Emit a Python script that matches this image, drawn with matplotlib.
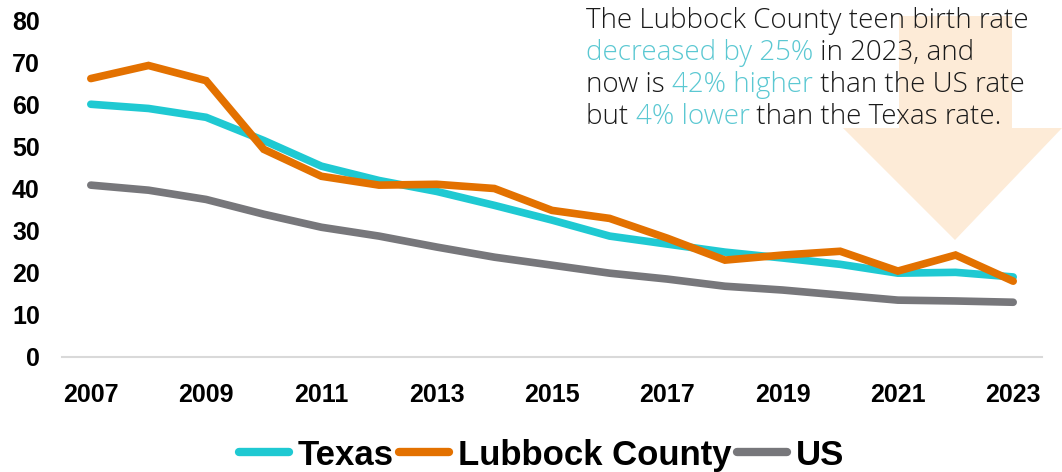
import numpy as np
import matplotlib.pyplot as plt
from matplotlib.patches import Polygon

years = list(range(2007, 2024))
texas = [60.0, 59.0, 56.9, 51.4, 45.3, 41.9, 39.3, 36.0, 32.5, 28.7, 26.8, 24.9, 23.5, 22.0, 19.9, 20.1, 19.0]
lubbock = [66.1, 69.2, 65.6, 49.3, 42.9, 40.8, 41.0, 40.0, 34.8, 32.9, 28.2, 23.0, 24.2, 25.1, 20.4, 24.2, 18.0]
us = [40.8, 39.6, 37.4, 33.9, 30.8, 28.7, 26.1, 23.7, 21.8, 19.9, 18.5, 16.8, 15.9, 14.7, 13.5, 13.3, 13.0]
series_names = ["Texas", "Lubbock County", "US"]
colors = ["#1FC9D2", "#E37100", "#77777B"]
y_ticks = list(range(0, 90, 10))
x_labels = years[::2]

note_lines = [
    [("The Lubbock County teen birth rate", "#1a1a1a")],
    [("decreased by 25%", "#5BC8D2"), (" in 2023, and", "#1a1a1a")],
    [("now is ", "#1a1a1a"), ("42% higher", "#5BC8D2"), (" than the US rate", "#1a1a1a")],
    [("but ", "#1a1a1a"), ("4% lower", "#5BC8D2"), (" than the Texas rate.", "#1a1a1a")],
]

W, H = 1062, 472
fig = plt.figure(figsize=(W / 100, H / 100), dpi=100)
ax = fig.add_axes([62 / W, 1 - 357 / H, (1042 - 62) / W, (357 - 20) / H])
ax.set_facecolor("none")

# background arrow (figure pixels)
arrow = [(899, 16), (1012, 16), (1012, 128), (1062, 128), (955, 240), (843, 128), (899, 128)]
arrow = [(x / W, 1 - y / H) for x, y in arrow]
fig.patches.append(Polygon(arrow, closed=True, transform=fig.transFigure,
                           facecolor="#FDEBD7", edgecolor="none", zorder=0))

for vals, name, c in zip([texas, lubbock, us], series_names, colors):
    ax.plot(years, vals, color=c, lw=5.5, solid_capstyle="round",
            solid_joinstyle="miter", label=name)

ax.set_xlim(2006.5, 2023.5)
ax.set_ylim(0, 80)
ax.set_yticks(y_ticks)
ax.set_xticks(x_labels)
for s in ["top", "right", "left"]:
    ax.spines[s].set_visible(False)
ax.spines["bottom"].set_color("#D9D9D9")
ax.spines["bottom"].set_linewidth(1.5)
ax.tick_params(length=0)
ax.tick_params(axis="y", pad=16)
ax.tick_params(axis="x", pad=19)
for lab in ax.get_xticklabels() + ax.get_yticklabels():
    lab.set_fontfamily("Liberation Sans")
    lab.set_fontweight("bold")
    lab.set_fontsize(18)

leg = fig.legend(loc="center", bbox_to_anchor=(0.51, 0.036), ncol=3, frameon=False,
                 handlelength=1.45, handletextpad=0.25, columnspacing=0.15,
                 prop={"family": "Liberation Sans", "weight": "bold", "size": 25})
for h in leg.legend_handles:
    h.set_linewidth(6)

# annotation with coloured words
fig.canvas.draw()
renderer = fig.canvas.get_renderer()
y0 = 28
for i, parts in enumerate(note_lines):
    x = 586
    for s, c in parts:
        t = fig.text(x / W, 1 - (y0 + i * 32) / H, s, color=c, fontsize=20,
                     family="Open Sans", weight="light", va="baseline", ha="left")
        bb = t.get_window_extent(renderer)
        x += bb.width

fig.savefig("out.png", dpi=100)
